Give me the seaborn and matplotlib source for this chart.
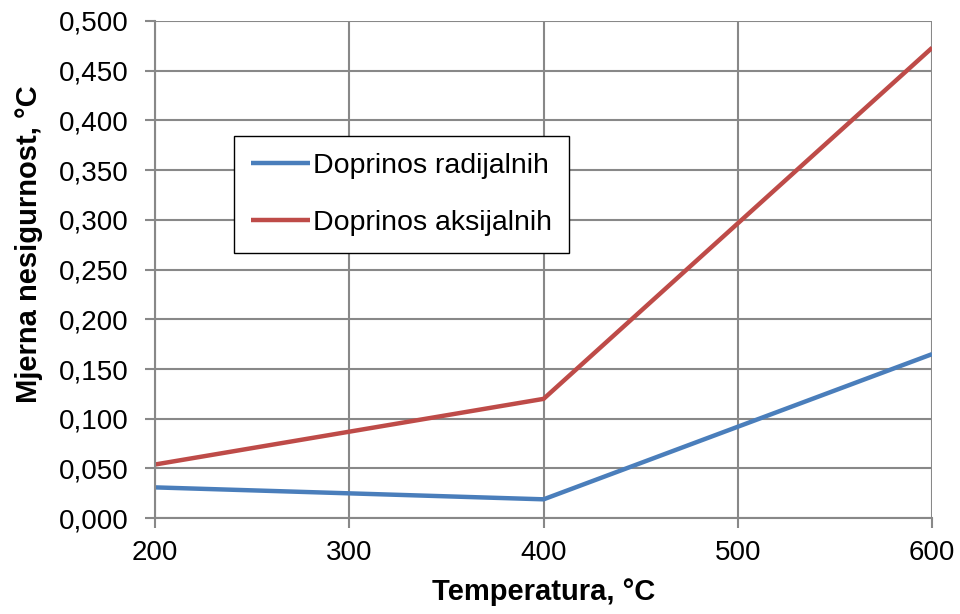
import pandas as pd
import matplotlib
matplotlib.use('Agg')
import matplotlib.pyplot as plt
import seaborn as sns

# Data
temperatures = [200, 400, 600]
radial = [0.031, 0.019, 0.165]
axial = [0.054, 0.120, 0.473]
series_names = ['Doprinos radijalnih', 'Doprinos aksijalnih']
y_ticks = [0.0, 0.05, 0.1, 0.15, 0.2, 0.25, 0.3, 0.35, 0.4, 0.45, 0.5]
x_ticks = [200, 300, 400, 500, 600]

data = pd.DataFrame({
    'Temperatura': temperatures * 2,
    'Nesigurnost': radial + axial,
    'Serija': [series_names[0]] * 3 + [series_names[1]] * 3,
})

sns.set_style('white')
plt.rcParams['font.family'] = ['Liberation Sans', 'DejaVu Sans']
plt.rcParams['text.color'] = 'black'
plt.rcParams['axes.labelcolor'] = 'black'

fig = plt.figure(figsize=(9.6, 6.14), dpi=100)
ax = fig.add_axes([0.1615, 0.156, 0.8095, 0.81])

sns.lineplot(data=data, x='Temperatura', y='Nesigurnost', hue='Serija',
             palette=['#4A7EBB', '#BE4B48'], linewidth=3.2, ax=ax,
             solid_capstyle='butt')

ax.set_xlim(200, 600)
ax.set_ylim(0, 0.5)
ax.set_xticks(x_ticks)
ax.set_yticks(y_ticks)
ax.set_yticklabels([f'{v:.3f}'.replace('.', ',') for v in y_ticks])
ax.tick_params(axis='both', labelsize=20, colors='#888888', labelcolor='black',
               length=7, width=1.5, direction='out', left=True, bottom=True)
ax.tick_params(axis='y', pad=12)
ax.tick_params(axis='x', pad=9)
ax.grid(True, color='#888888', linewidth=1.5)
ax.set_axisbelow(True)
for side in ['top', 'right']:
    ax.spines[side].set_visible(False)
for side in ['left', 'bottom']:
    ax.spines[side].set_color('#888888')
    ax.spines[side].set_linewidth(1.5)

ax.set_xlabel('Temperatura, °C', fontsize=21, fontweight='bold', color='black')
ax.set_ylabel('Mjerna nesigurnost, °C', fontsize=21, fontweight='bold', color='black')
ax.xaxis.set_label_coords(0.5, -0.12)
ax.yaxis.set_label_coords(-0.144, 0.55)

leg = ax.legend(loc='upper left', bbox_to_anchor=(0.102, 0.769), fontsize=20.5,
                frameon=True, fancybox=False, edgecolor='black', framealpha=1,
                handlelength=2.05, handletextpad=0.1, labelspacing=1.1,
                borderpad=0.6, borderaxespad=0, labelcolor='black')
leg.get_frame().set_linewidth(1.0)
leg.set_title(None)

fig.savefig('out.png', dpi=100)
